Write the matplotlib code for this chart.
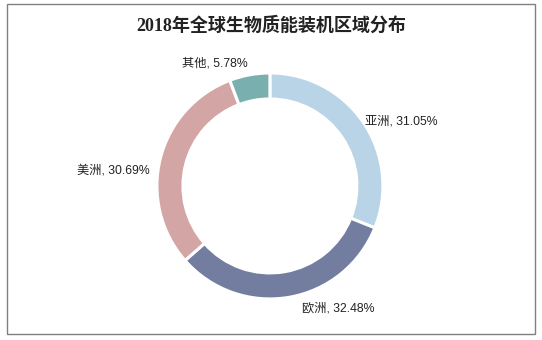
import matplotlib
matplotlib.use("Agg")
import matplotlib.pyplot as plt
from matplotlib.patches import Rectangle

plt.rcParams['font.family'] = ['Noto Sans CJK SC', 'DejaVu Sans']

# ======================
# data
# ======================
regions = ["亚洲", "欧洲", "美洲", "其他"]
shares = [31.05, 32.48, 30.69, 5.78]
colors = ["#B8D4E6", "#737DA0", "#D4A5A5", "#7AAFB0"]
title = "2018年全球生物质能装机区域分布"

labels = [f"{r}, {v:.2f}%" for r, v in zip(regions, shares)]

# ======================
# figure
# ======================
fig = plt.figure(figsize=(5.42, 3.40), dpi=100)
fig.patch.set_facecolor("white")

# grey frame around the whole chart
fig.patches.append(Rectangle((0.0129, 0.0176), 0.974, 0.970,
                             transform=fig.transFigure, fill=False,
                             edgecolor="#808080", linewidth=1.0))

ax = fig.add_axes([0.227, 0.0206, 0.542, 0.865])

wedges, texts = ax.pie(shares, labels=labels, colors=colors,
                       startangle=90, counterclock=False,
                       labeldistance=1.1,
                       wedgeprops=dict(width=0.23, edgecolor="white", linewidth=2.2),
                       textprops=dict(fontsize=8.8, color="#222222",
                                      family=['Liberation Sans', 'Noto Sans CJK SC']))
ax.set_xlim(-1.3, 1.3)
ax.set_ylim(-1.3, 1.3)
ax.set_aspect("equal")

# small label nudges to sit where the original puts them
nudges = [(-0.07, -0.05), (0.1, 0.0), (0.0, -0.13), (0.0, 0.0)]
for t, (dx, dy) in zip(texts, nudges):
    x, y = t.get_position()
    t.set_position((x + dx, y + dy))

fig.text(0.5, 0.925, title, ha="center", va="center",
         fontsize=13, fontweight="bold", color="#222222",
         family=['Liberation Serif', 'Noto Sans CJK SC'])

fig.savefig("out.png", dpi=100)
